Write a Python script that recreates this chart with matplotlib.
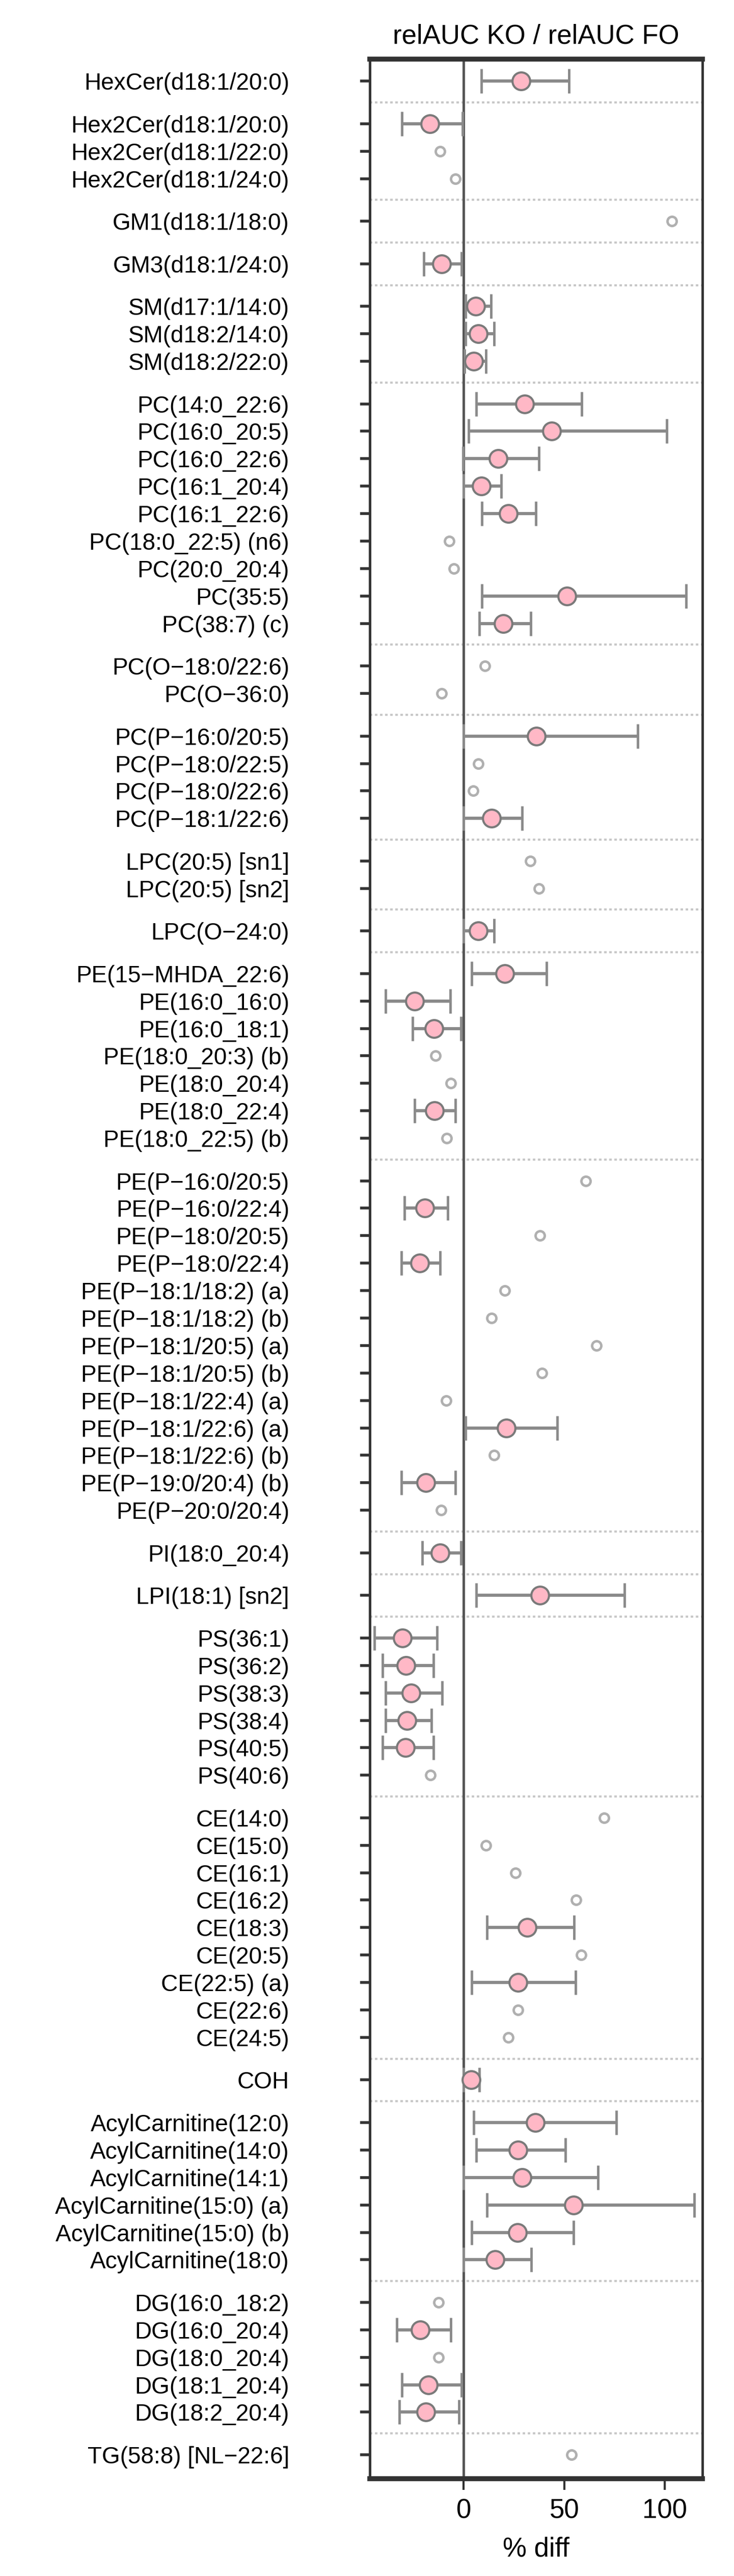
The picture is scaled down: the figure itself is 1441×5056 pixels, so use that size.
import matplotlib
matplotlib.use("Agg")
import matplotlib.pyplot as plt
import numpy as np

plt.rcParams['font.family'] = ['Liberation Sans Narrow', 'Liberation Sans', 'DejaVu Sans']

groups = [
    ["HexCer(d18:1/20:0)"],
    ["Hex2Cer(d18:1/20:0)", "Hex2Cer(d18:1/22:0)", "Hex2Cer(d18:1/24:0)"],
    ["GM1(d18:1/18:0)"],
    ["GM3(d18:1/24:0)"],
    ["SM(d17:1/14:0)", "SM(d18:2/14:0)", "SM(d18:2/22:0)"],
    ["PC(14:0_22:6)", "PC(16:0_20:5)", "PC(16:0_22:6)", "PC(16:1_20:4)", "PC(16:1_22:6)",
     "PC(18:0_22:5) (n6)", "PC(20:0_20:4)", "PC(35:5)", "PC(38:7) (c)"],
    ["PC(O\u221218:0/22:6)", "PC(O\u221236:0)"],
    ["PC(P\u221216:0/20:5)", "PC(P\u221218:0/22:5)", "PC(P\u221218:0/22:6)", "PC(P\u221218:1/22:6)"],
    ["LPC(20:5) [sn1]", "LPC(20:5) [sn2]"],
    ["LPC(O\u221224:0)"],
    ["PE(15\u2212MHDA_22:6)", "PE(16:0_16:0)", "PE(16:0_18:1)", "PE(18:0_20:3) (b)", "PE(18:0_20:4)",
     "PE(18:0_22:4)", "PE(18:0_22:5) (b)"],
    ["PE(P\u221216:0/20:5)", "PE(P\u221216:0/22:4)", "PE(P\u221218:0/20:5)", "PE(P\u221218:0/22:4)",
     "PE(P\u221218:1/18:2) (a)", "PE(P\u221218:1/18:2) (b)", "PE(P\u221218:1/20:5) (a)",
     "PE(P\u221218:1/20:5) (b)", "PE(P\u221218:1/22:4) (a)", "PE(P\u221218:1/22:6) (a)",
     "PE(P\u221218:1/22:6) (b)", "PE(P\u221219:0/20:4) (b)", "PE(P\u221220:0/20:4)"],
    ["PI(18:0_20:4)"],
    ["LPI(18:1) [sn2]"],
    ["PS(36:1)", "PS(36:2)", "PS(38:3)", "PS(38:4)", "PS(40:5)", "PS(40:6)"],
    ["CE(14:0)", "CE(15:0)", "CE(16:1)", "CE(16:2)", "CE(18:3)", "CE(20:5)", "CE(22:5) (a)",
     "CE(22:6)", "CE(24:5)"],
    ["COH"],
    ["AcylCarnitine(12:0)", "AcylCarnitine(14:0)", "AcylCarnitine(14:1)",
     "AcylCarnitine(15:0) (a)", "AcylCarnitine(15:0) (b)", "AcylCarnitine(18:0)"],
    ["DG(16:0_18:2)", "DG(16:0_20:4)", "DG(18:0_20:4)", "DG(18:1_20:4)", "DG(18:2_20:4)"],
    ["TG(58:8) [NL\u221222:6]"],
]

nan = np.nan
# % diff estimate, lower CI, upper CI (NaN = not significant, drawn as small open circle)
values = [28.6, -16.8, -11.7, -4.0, 103.5, -11.0, 6.1, 7.3, 5.1,
          30.3, 43.8, 17.1, 8.7, 22.1, -7.1, -5.0, 51.3, 19.7,
          10.5, -11.0,
          36.2, 7.3, 4.8, 13.8,
          33.0, 37.4,
          7.2,
          20.5, -24.4, -14.8, -14.0, -6.5, -14.6, -8.4,
          60.8, -19.4, 37.8, -21.8, 20.5, 13.9, 66.1, 39.0, -8.6, 21.3, 15.0, -18.8, -11.2,
          -11.6,
          38.0,
          -30.4, -28.7, -26.2, -28.3, -28.9, -16.6,
          69.7, 11.1, 25.7, 56.0, 31.7, 58.4, 26.9, 26.9, 22.2,
          3.6,
          35.6, 26.9, 29.0, 54.5, 26.7, 15.6,
          -12.4, -21.7, -12.4, -17.5, -18.7,
          53.5]
lower = [8.8, -30.7, nan, nan, nan, -19.8, 1.0, 1.0, 0.4,
         6.3, 2.5, -0.2, 0.0, 9.0, nan, nan, 9.0, 7.8,
         nan, nan,
         0.0, nan, nan, 0.0,
         nan, nan,
         0.0,
         3.9, -38.8, -25.4, nan, nan, -24.4, nan,
         nan, -29.5, nan, -31.0, nan, nan, nan, nan, nan, 1.0, nan, -31.0, nan,
         -20.6,
         6.3,
         -44.3, -40.3, -38.9, -38.9, -40.3, nan,
         nan, nan, nan, nan, 11.7, nan, 3.9, nan, nan,
         0.0,
         5.1, 6.3, 0.0, 11.7, 3.9, 0.0,
         nan, -33.3, nan, -30.7, -31.9,
         nan]
upper = [52.3, -0.5, nan, nan, nan, -1.2, 13.5, 15.0, 11.0,
         58.6, 101.0, 37.4, 18.7, 36.0, nan, nan, 110.6, 33.3,
         nan, nan,
         86.5, nan, nan, 29.0,
         nan, nan,
         15.0,
         41.3, -6.6, -1.4, nan, nan, -4.2, nan,
         nan, -8.0, nan, -11.6, nan, nan, nan, nan, nan, 46.4, nan, -4.2, nan,
         -1.4,
         80.0,
         -13.2, -15.0, -10.8, -16.1, -15.0, nan,
         nan, nan, nan, nan, 54.8, nan, 55.7, nan, nan,
         7.8,
         76.0, 50.6, 66.7, 114.6, 54.5, 33.5,
         nan, -6.3, nan, -1.2, -2.3,
         nan]

xticks = [0, 50, 100]

GAP = 1.55
labels, ypos = [], []
y = 0.0
for gi, g in enumerate(groups):
    if gi > 0:
        y += GAP
    for j, lab in enumerate(g):
        if j > 0:
            y += 1.0
        labels.append(lab)
        ypos.append(y)
dividers = []
idx = 0
for g in groups[:-1]:
    idx += len(g)
    dividers.append((ypos[idx - 1] + ypos[idx]) / 2)

ypos = np.array(ypos)
values = np.array(values); lower = np.array(lower); upper = np.array(upper)
sig = ~np.isnan(lower)

fig = plt.figure(figsize=(14.41, 50.56), dpi=100)
ax = fig.add_axes([0.504, 0.0378, 0.957 - 0.504, 0.977 - 0.0378])

for d in dividers:
    ax.axhline(d, color='#c8c8c8', lw=3, ls=(0, (1.2, 1.2)), zorder=1)
ax.axvline(0, color='#555555', lw=3.5, zorder=2)

ax.errorbar(values[sig], ypos[sig],
            xerr=[values[sig] - lower[sig], upper[sig] - values[sig]],
            fmt='none', ecolor='#8a8a8a', elinewidth=4.5, capsize=17, capthick=3.5, zorder=3)
ax.plot(values[sig], ypos[sig], 'o', ms=25, mfc='#ffb8c6', mec='#7a7a7a', mew=3, zorder=4, ls='none')
ax.plot(values[~sig], ypos[~sig], 'o', ms=13, mfc='white', mec='#b0b0b0', mew=3.5, zorder=4, ls='none')

ax.set_xlim(-46.6, 118.7)
ax.set_ylim(ypos[-1] + 0.87, ypos[0] - 0.8)
ax.set_yticks(ypos)
ax.set_yticklabels(labels, fontsize=33)
ax.set_xticks(xticks)
ax.set_xticklabels([str(t) for t in xticks], fontsize=38)
ax.tick_params(axis='y', length=14, width=4, color='#333333', pad=100)
ax.tick_params(axis='x', length=16, width=3, color='#333333', pad=12)
for s in ['left', 'right']:
    ax.spines[s].set_linewidth(3.5)
    ax.spines[s].set_color('#333333')
for s in ['top', 'bottom']:
    ax.spines[s].set_linewidth(7)
    ax.spines[s].set_color('#333333')
ax.set_xlabel('% diff', fontsize=38, labelpad=18)
ax.set_title('relAUC KO / relAUC FO', fontsize=38, pad=22)

fig.savefig('out.png', dpi=100, facecolor='white')
